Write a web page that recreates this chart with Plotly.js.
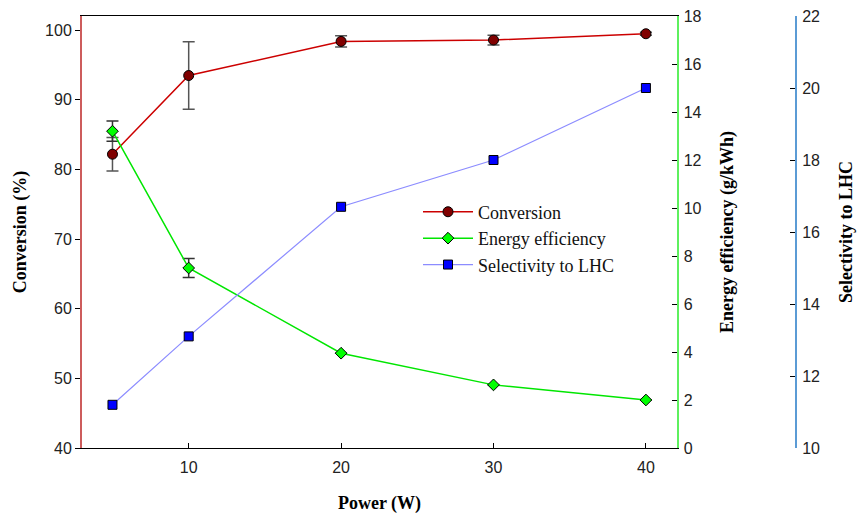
<!DOCTYPE html>
<html>
<head>
<meta charset="utf-8">
<script src="https://cdn.plot.ly/plotly-3.0.1.min.js"></script>
<style>html,body{margin:0;padding:0;background:#fff;}#chart{width:859px;height:514px;}</style>
</head>
<body>
<div id="chart"></div>
<script>
const power = [5, 10, 20, 30, 40];
const conversion = [82.2, 93.5, 98.4, 98.6, 99.5];
const conversionErr = [2.4, 4.85, 0.8, 0.7, 0.2];
const energy = [13.2, 7.5, 3.95, 2.63, 2.0];
const energyErr = [0.42, 0.4, null, null, null];
const selectivity = [11.2, 13.1, 16.7, 18.0, 20.0];
const seriesNames = ["Conversion", "Energy efficiency", "Selectivity to LHC"];
const xTicks = [10, 20, 30, 40];

const tickFont = {family: "Liberation Sans, Arial, sans-serif", size: 16, color: "#222"};
const titleFont = {family: "Liberation Serif, Times New Roman, serif", size: 18, color: "#000", weight: "bold"};

const traces = [
  {
    x: power, y: conversion, name: seriesNames[0], type: "scatter", mode: "lines+markers",
    yaxis: "y",
    line: {color: "#cc0000", width: 1.5},
    marker: {symbol: "circle", size: 10, color: "#800000", line: {color: "#000", width: 1}},
    error_y: {type: "data", array: conversionErr, visible: true, color: "#555", thickness: 1.5, width: 6}
  },
  {
    x: power, y: energy, name: seriesNames[1], type: "scatter", mode: "lines+markers",
    yaxis: "y2",
    line: {color: "#00e600", width: 1.5},
    marker: {symbol: "diamond", size: 9, color: "#00ff00", line: {color: "#000", width: 1}},
    error_y: {type: "data", array: energyErr, visible: true, color: "#333", thickness: 1.5, width: 6}
  },
  {
    x: power, y: selectivity, name: seriesNames[2], type: "scatter", mode: "lines+markers",
    yaxis: "y3",
    line: {color: "#8c8cff", width: 1.2},
    marker: {symbol: "square", size: 9, color: "#0000ff", line: {color: "#000", width: 1}}
  }
];

const W = 859, L = 82, R = 40, plotW = W - L - R;
const xEnd = (677 - L) / plotW;
const y3Pos = (796 - L) / plotW;

const layout = {
  width: 859, height: 514,
  margin: {l: L, r: R, t: 16, b: 66},
  paper_bgcolor: "#fff", plot_bgcolor: "#fff",
  showlegend: true,
  legend: {
    x: (418 - L) / plotW, y: 0.589, xanchor: "left", yanchor: "top",
    bgcolor: "rgba(0,0,0,0)", borderwidth: 0,
    font: {family: "Liberation Serif, Times New Roman, serif", size: 18, color: "#111"},
    itemwidth: 50, tracegroupgap: 0
  },
  xaxis: {
    domain: [0, xEnd], range: [3, 42.04],
    tickvals: xTicks, ticks: "inside", ticklen: 5, tickcolor: "#000",
    showline: true, linecolor: "#000", linewidth: 1, mirror: true,
    showgrid: false, zeroline: false, tickfont: tickFont, ticklabelstandoff: 5,
    title: {text: "Power (W)", font: titleFont, standoff: 24}
  },
  yaxis: {
    range: [40, 102.05], dtick: 10, ticks: "outside", ticklen: 5, tickcolor: "#000",
    showline: true, linecolor: "#cd5c5c", linewidth: 2,
    showgrid: false, zeroline: false, tickfont: tickFont,
    title: {text: "Conversion (%)", font: titleFont, standoff: 14}
  },
  yaxis2: {
    overlaying: "y", side: "right", anchor: "x",
    range: [0, 18], dtick: 2, ticks: "inside", ticklen: 5, tickcolor: "#000",
    showline: true, linecolor: "#5ef05e", linewidth: 1.5,
    showgrid: false, zeroline: false, tickfont: tickFont, ticklabelstandoff: 2,
    title: {text: "Energy efficiency (g/kWh)", font: titleFont}
  },
  yaxis3: {
    overlaying: "y", side: "right", anchor: "free", position: y3Pos,
    range: [10, 22], dtick: 2, ticks: "inside", ticklen: 5, tickcolor: "#000",
    showline: true, linecolor: "#5b9bd5", linewidth: 2,
    showgrid: false, zeroline: false, tickfont: tickFont, ticklabelstandoff: 2,
    title: {text: "Selectivity to LHC", font: titleFont}
  }
};

Plotly.newPlot("chart", traces, layout, {displayModeBar: false, staticPlot: true});
</script>
</body>
</html>
